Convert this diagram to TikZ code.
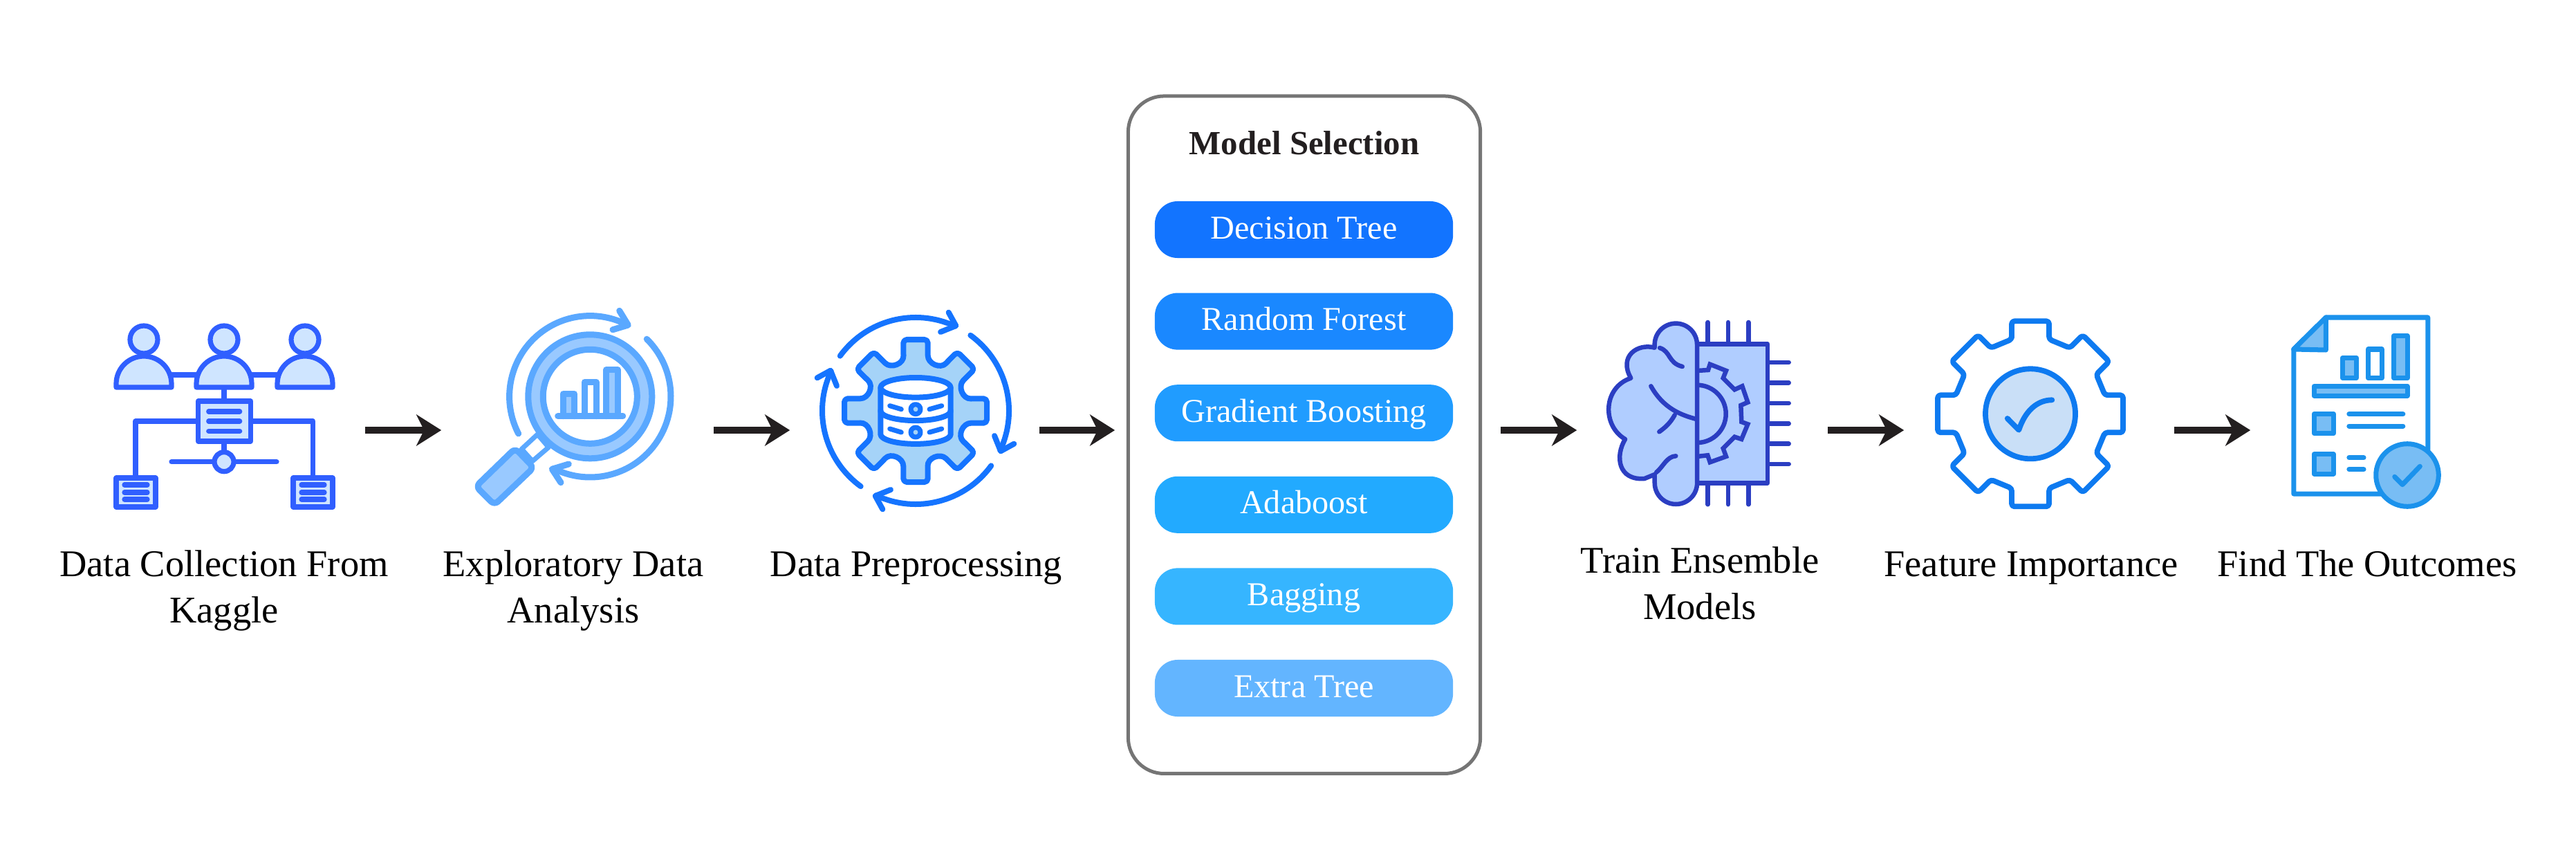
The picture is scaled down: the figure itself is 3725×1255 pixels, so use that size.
\documentclass[tikz,border=0pt]{standalone}
\usepackage{fontspec}
\setmainfont{Liberation Serif}
\usetikzlibrary{arrows.meta}

\definecolor{inkblack}{HTML}{231F20}
\definecolor{panelgrey}{HTML}{757575}
\definecolor{decisionblue}{HTML}{1274FF}
\definecolor{forestblue}{HTML}{1A88FF}
\definecolor{gradientblue}{HTML}{209CFF}
\definecolor{adablue}{HTML}{22AAFF}
\definecolor{baggingblue}{HTML}{36B5FF}
\definecolor{extrablue}{HTML}{63B5FF}
\definecolor{collectblue}{HTML}{305FFF}
\definecolor{collectfill}{HTML}{CFE5FF}
\definecolor{edablue}{HTML}{5AA8FF}
\definecolor{edafill}{HTML}{99C9FF}
\definecolor{prepblue}{HTML}{1574FF}
\definecolor{prepfill}{HTML}{A5D3F8}
\definecolor{trainblue}{HTML}{2B3EC2}
\definecolor{trainfill}{HTML}{B0CDFF}
\definecolor{featureblue}{HTML}{0E7AF0}
\definecolor{featurefill}{HTML}{C9DFF7}
\definecolor{outcomeblue}{HTML}{1B92EC}
\definecolor{outcomefill}{HTML}{78BDF4}

\tikzset{
    iconslot/.style={minimum width=#1, minimum height=1cm, inner sep=0pt},
    flowarrow/.style={draw=inkblack, line width=0.095cm, -{Stealth[length=0.36cm, width=0.45cm, inset=0.11cm]}},
    steplabel/.style={font=\fontsize{15.5}{19}\selectfont, text=black, align=center, anchor=base, inner sep=0pt},
    modelpill/.style={fill=#1, rounded corners=0.33cm, minimum width=4.31cm, minimum height=0.82cm, inner sep=0pt,
        text=white, font=\fontsize{13.7}{16}\selectfont, text height=0.36cm, text depth=0.1cm},
    iconline/.style={draw=#1, line cap=round, line join=round},
    collectline/.style={iconline=collectblue, line width=0.072cm},
    edaline/.style={iconline=edablue, line width=0.09cm},
    prepline/.style={iconline=prepblue, line width=0.08cm},
    trainline/.style={iconline=trainblue, line width=0.065cm},
    featureline/.style={iconline=featureblue, line width=0.078cm},
    outcomeline/.style={iconline=outcomeblue, line width=0.07cm},
}

\begin{document}
\begin{tikzpicture}[x=0.01cm, y=-0.01cm]
        \useasboundingbox (0,0) rectangle (3725,1255);

        % Places the arrows run between
        \node[iconslot=4.67cm] (collect) at (293.5,622) {};
        \node[iconslot=3.92cm] (explore) at (835,622) {};
        \node[iconslot=3.59cm] (prepare) at (1322.5,622) {};
        \node[iconslot=5.56cm] (select) at (1891,622) {};
        \node[iconslot=3.61cm] (train) at (2461.5,622) {};
        \node[iconslot=3.89cm] (feature) at (2948.5,622) {};
        \node[iconslot=4.45cm] (outcome) at (3477.5,622) {};

        % Flow arrows
        \draw[flowarrow] (collect) -- (explore);
        \draw[flowarrow] (explore) -- (prepare);
        \draw[flowarrow] (prepare) -- (select);
        \draw[flowarrow] (select) -- (train);
        \draw[flowarrow] (train) -- (feature);
        \draw[flowarrow] (feature) -- (outcome);

        % Step labels (two-line labels sit on their last line)
        \node[steplabel] (collectText) at (324,900) {Data Collection From\\Kaggle};
        \node[steplabel] (exploreText) at (829,900) {Exploratory Data\\Analysis};
        \node[steplabel] (prepareText) at (1325,833) {Data Preprocessing};
        \node[steplabel] (trainText) at (2458,895) {Train Ensemble\\Models};
        \node[steplabel] (featureText) at (2937,833) {Feature Importance};
        \node[steplabel] (outcomeText) at (3423,833) {Find The Outcomes};

        % Model selection panel
        \node[draw=panelgrey, line width=0.05cm, rounded corners=0.52cm, minimum width=5.09cm, minimum height=9.79cm] (panel) at (1886,628.7) {};
        \node[font=\fontsize{13.9}{16}\selectfont\bfseries, text=inkblack, anchor=base, inner sep=0pt] (panelTitle) at (1886,224) {Model Selection};
        \node[modelpill=decisionblue] (pillDecision) at (1885.5,332) {Decision Tree};
        \node[modelpill=forestblue] (pillForest) at (1885.5,464.6) {Random Forest};
        \node[modelpill=gradientblue] (pillGradient) at (1885.5,597.2) {Gradient Boosting};
        \node[modelpill=adablue] (pillAda) at (1885.5,729.8) {Adaboost};
        \node[modelpill=baggingblue] (pillBagging) at (1885.5,862.4) {Bagging};
        \node[modelpill=extrablue] (pillExtra) at (1885.5,995) {Extra Tree};

        % Data collection icon: wires
        \draw[collectline] (248,542) -- (402,542);
        \draw[collectline] (324,560) -- (324,655);
        \draw[collectline] (196,691) |- (452.7,609) -- (452.7,691);
        \draw[collectline] (248,667.7) -- (400,667.7);
        % people
        \draw[collectline, fill=collectfill] (208,491) circle[radius=20];
        \draw[collectline, fill=collectfill] (324,491) circle[radius=20];
        \draw[collectline, fill=collectfill] (441,491) circle[radius=20];
        \draw[collectline, fill=collectfill] (168,560) -- (168,555) arc[start angle=180, end angle=360, radius=40] -- (248,560) -- cycle;
        \draw[collectline, fill=collectfill] (284,560) -- (284,555) arc[start angle=180, end angle=360, radius=40] -- (364,560) -- cycle;
        \draw[collectline, fill=collectfill] (401,560) -- (401,555) arc[start angle=180, end angle=360, radius=40] -- (481,560) -- cycle;
        % documents
        \draw[collectline, fill=collectfill] (286.5,580) rectangle (362.5,638);
        \draw[collectline] (301.7,595) -- (346.7,595);
        \draw[collectline] (301.7,609) -- (346.7,609);
        \draw[collectline] (301.7,623.3) -- (346.7,623.3);
        \draw[collectline, fill=collectfill] (168,691) rectangle (225,733);
        \draw[collectline] (180,701) -- (213,701);
        \draw[collectline] (180,712) -- (213,712);
        \draw[collectline] (180,722) -- (213,722);
        \draw[collectline, fill=collectfill] (424,691) rectangle (481,733);
        \draw[collectline] (436,701) -- (469,701);
        \draw[collectline] (436,712) -- (469,712);
        \draw[collectline] (436,722) -- (469,722);
        \draw[collectline, fill=collectfill] (324,667.7) circle[radius=14];

        % Exploratory analysis icon: turning arrows
        \draw[edaline] (853.3,573.3) ++(152.6:116.7) arc[start angle=152.6, end angle=297, radius=116.7];
        \draw[edaline] (895.7,449.3) -- (908.3,470) -- (886,476.7);
        \draw[edaline] (853.3,573.3) ++(-45.4:116.7) arc[start angle=-45.4, end angle=116.8, radius=116.7];
        \draw[edaline] (822.3,671) -- (798.3,678.3) -- (811,697.7);
        % magnifier
        \draw[edaline, fill=white, line width=0.07cm] (777.3,628) -- (793.3,646.7) -- (770,666.7) -- (754.3,649.3) -- cycle;
        \draw[edaline, fill=edafill, rounded corners=0.07cm] (745,648.3) -- (771.7,676) -- (715,730) -- (688.3,703.3) -- cycle;
        \draw[edaline, fill=edafill] (853.3,573.3) circle[radius=89.5];
        \draw[edaline, fill=white] (853.3,573.3) circle[radius=68];
        % chart
        \draw[edaline, fill=edafill] (814,601.7) -- (814,569.7) -- (830.7,569.7) -- (830.7,601.7);
        \draw[edaline, fill=white] (845.3,601.7) -- (845.3,552.3) -- (862,552.3) -- (862,601.7);
        \draw[edaline, fill=edafill] (876.7,601.7) -- (876.7,534.7) -- (893.3,534.7) -- (893.3,601.7);
        \draw[edaline] (806.7,601.7) -- (900.7,601.7);

        % Preprocessing icon: turning arrows
        \draw[prepline] (1324,594) ++(216:135) arc[start angle=216, end angle=295, radius=135];
        \draw[prepline] (1371.7,451.7) -- (1382.3,471) -- (1360,480);
        \draw[prepline, rotate around={90:(1324,594)}] (1324,594) ++(216:135) arc[start angle=216, end angle=295, radius=135];
        \draw[prepline, rotate around={90:(1324,594)}] (1371.7,451.7) -- (1382.3,471) -- (1360,480);
        \draw[prepline, rotate around={180:(1324,594)}] (1324,594) ++(216:135) arc[start angle=216, end angle=295, radius=135];
        \draw[prepline, rotate around={180:(1324,594)}] (1371.7,451.7) -- (1382.3,471) -- (1360,480);
        \draw[prepline, rotate around={270:(1324,594)}] (1324,594) ++(216:135) arc[start angle=216, end angle=295, radius=135];
        \draw[prepline, rotate around={270:(1324,594)}] (1371.7,451.7) -- (1382.3,471) -- (1360,480);
        % gear
        \begin{scope}[shift={(1324,594)}]
            \draw[prepline, fill=prepfill, rounded corners=0.05cm] (-17.7,-85)
                foreach \a in {0,-45,...,-315} {
                    -- ([rotate=\a]-17.7,-103) -- ([rotate=\a]17.7,-103) -- ([rotate=\a]17.7,-85)
                    .. controls ([rotate=\a]17.7,-68) and ([rotate=\a]36,-60) .. ([rotate=\a-45]-17.7,-85)
                } -- cycle;
        \end{scope}
        % database
        \draw[prepline, fill=white] (1273.3,560.3) -- (1273.3,627.9) arc[x radius=50.7, y radius=14, start angle=180, end angle=0] -- (1374.7,560.3) -- cycle;
        \draw[prepline, fill=white] (1324,560.3) ellipse[x radius=50.7, y radius=14.3];
        \draw[prepline] (1273.3,594.1) arc[x radius=50.7, y radius=14, start angle=180, end angle=0];
        \draw[prepline, line width=0.07cm] (1286.7,586.7) -- (1303.3,591.7);
        \draw[prepline, line width=0.07cm] (1344,591.7) -- (1361.7,586.7);
        \draw[prepline, line width=0.07cm] (1286.7,620) -- (1303.3,625);
        \draw[prepline, line width=0.07cm] (1344,625) -- (1361.7,620);
        \draw[prepline, line width=0.07cm, fill=prepfill] (1324,591.7) circle[radius=7];
        \draw[prepline, line width=0.07cm, fill=prepfill] (1324,625) circle[radius=7];

        % Training icon: chip pins
        \draw[trainline] (2469.7,466) -- (2469.7,729.3);
        \draw[trainline] (2499,466) -- (2499,729.3);
        \draw[trainline] (2528.3,466) -- (2528.3,729.3);
        \draw[trainline] (2530,524) -- (2586.7,524);
        \draw[trainline] (2530,553.3) -- (2586.7,553.3);
        \draw[trainline] (2530,583) -- (2586.7,583);
        \draw[trainline] (2530,612.3) -- (2586.7,612.3);
        \draw[trainline] (2530,641.7) -- (2586.7,641.7);
        \draw[trainline] (2530,671) -- (2586.7,671);
        % chip and half gear
        \draw[trainline, fill=trainfill] (2454,497.3) rectangle (2556,698.3);
        \draw[trainline, line join=miter] (2454,536) -- (2470,535) -- (2472.7,526.7) -- (2496,536) -- (2491.7,546.7) -- (2508.3,563.3) -- (2519.3,558.3) -- (2527.3,581.7) -- (2517.3,586) -- (2518.3,610) -- (2527.3,613.3) -- (2518.3,635) -- (2508.3,631.7) -- (2491.7,648.3) -- (2496,660) -- (2472.7,668.3) -- (2469.3,658.3) -- (2454,660);
        \draw[trainline] (2454,556.7) arc[start angle=-90, end angle=90, radius=41.7];
        % half brain
        \draw[trainline, fill=trainfill] (2454,498.3) arc[start angle=0, end angle=-180, radius=30.7] -- (2392.7,502.7)
            .. controls (2368,496) and (2340,515) .. (2358.3,546.7)
            .. controls (2318,560) and (2316,615) .. (2350,635)
            .. controls (2335,660) and (2340,695) .. (2378,692)
            -- (2392.7,686) -- (2392.7,698.3) arc[start angle=180, end angle=0, radius=30.7] -- cycle;
        \draw[trainline] (2400,503) .. controls (2416,508) and (2412,525) .. (2432.7,530);
        \draw[trainline] (2387.3,558.3) .. controls (2405,590) and (2430,600) .. (2453,606);
        \draw[trainline] (2421.7,600) .. controls (2415,612) and (2408,618) .. (2399.3,624.3);
        \draw[trainline] (2395,683) .. controls (2405,675) and (2410,660) .. (2423.3,659.3);

        % Feature importance icon
        \begin{scope}[shift={(2936,598.3)}]
            \draw[featureline, rounded corners=0.04cm] (-27,-107.7)
                foreach \a in {0,-45,...,-315} {
                    -- ([rotate=\a]-27,-134) -- ([rotate=\a]27,-134) -- ([rotate=\a]27,-107.7) -- ([rotate=\a-45]-27,-107.7)
                } -- cycle;
        \end{scope}
        \draw[featureline, fill=featurefill] (2936,598.3) circle[radius=65];
        \draw[featureline] (2902.7,605) -- (2919.3,621.7) .. controls (2928,595) and (2945,578.5) .. (2967.3,578.3);

        % Outcomes icon: page
        \draw[outcomeline, fill=white] (3316.7,505) -- (3363.3,459) -- (3510.7,459) -- (3510.7,714) -- (3316.7,714) -- cycle;
        \draw[outcomeline, fill=outcomefill] (3316.7,505) -- (3363.3,459) -- (3363.3,506) -- cycle;
        % chart
        \draw[outcomeline, fill=outcomefill] (3387.3,517.3) rectangle (3407.3,546.7);
        \draw[outcomeline, fill=white] (3424.3,505) rectangle (3444,546.7);
        \draw[outcomeline, fill=outcomefill] (3461.3,485.7) rectangle (3481,546.7);
        \draw[outcomeline, fill=outcomefill] (3346,558.7) rectangle (3481,572);
        % text rows
        \draw[outcomeline, fill=outcomefill] (3346,598.3) rectangle (3374.3,626.7);
        \draw[outcomeline, fill=outcomefill] (3346,656.7) rectangle (3374.3,685);
        \draw[outcomeline] (3396.8,598.7) -- (3474.8,598.7);
        \draw[outcomeline] (3396.8,616) -- (3474.8,616);
        \draw[outcomeline] (3396.8,661.7) -- (3418,661.7);
        \draw[outcomeline] (3396.8,678.7) -- (3418,678.7);
        % check badge
        \draw[outcomeline, fill=outcomefill] (3481,687) circle[radius=45.3];
        \draw[outcomeline] (3462.7,689.3) -- (3474,700.7) -- (3499.3,674.3);
\end{tikzpicture}
\end{document}
